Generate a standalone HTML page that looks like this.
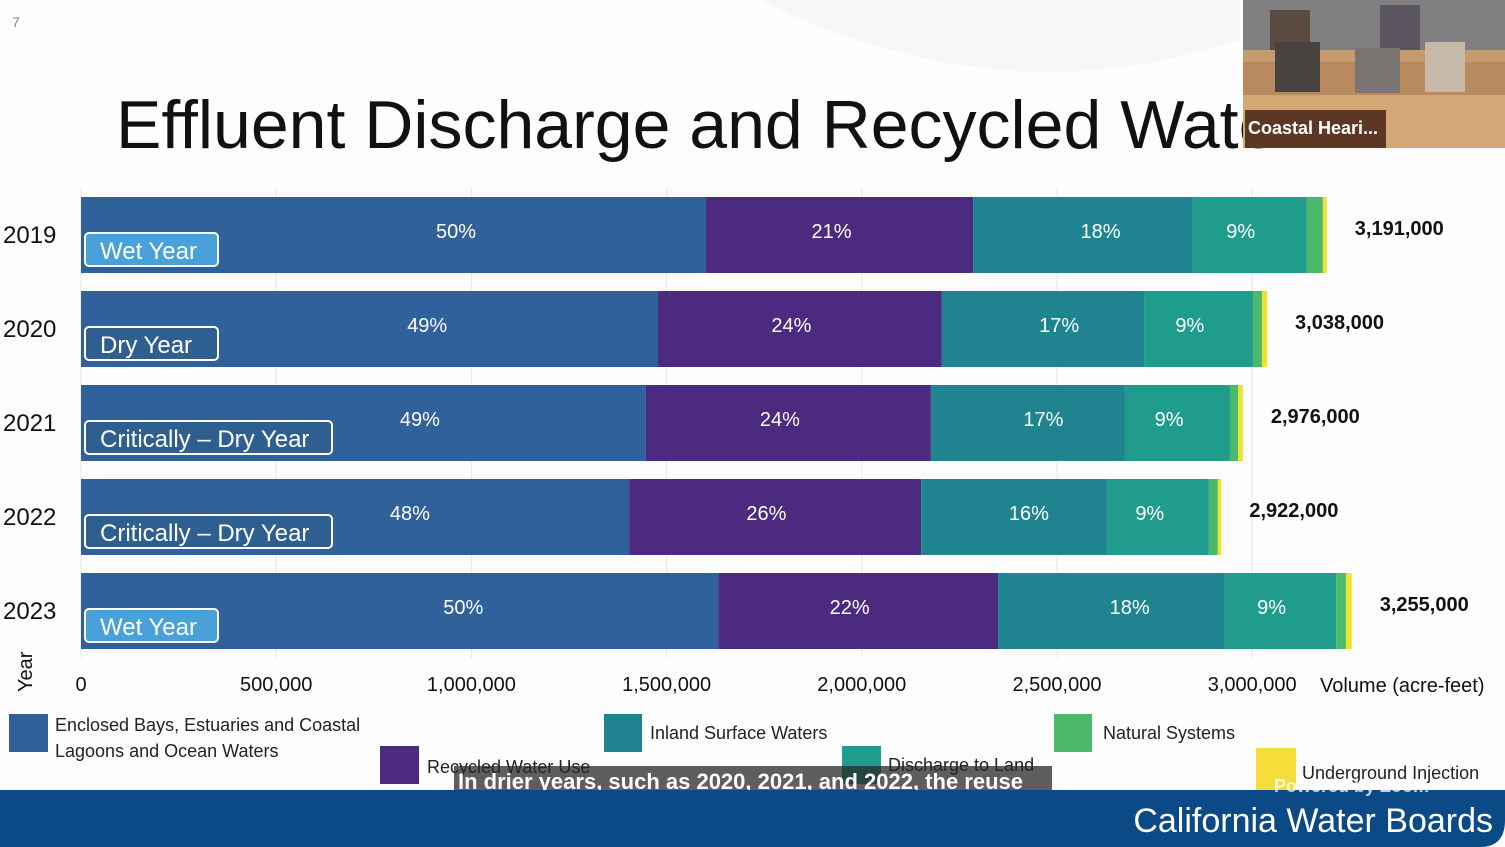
<!DOCTYPE html>
<html><head><meta charset="utf-8">
<style>
html,body{margin:0;padding:0;background:#fff;}
body{width:1505px;height:847px;overflow:hidden;position:relative;font-family:"Liberation Sans",sans-serif;}
svg{position:absolute;left:0;top:0;}
</style></head>
<body>
<svg id="chart" width="1505" height="847" viewBox="0 0 1505 847">
  <rect x="0" y="0" width="1505" height="847" fill="#fdfdfd"/>
  <path d="M760 0 Q1000 120 1240 40 L1240 0 Z" fill="#f6f7f8"/>
  <text x="12" y="27" font-size="14" fill="#888">7</text>
  <text x="116" y="148" font-size="68" fill="#111">Effluent Discharge and Recycled Water</text>
  <g id="grid"></g>
  <g id="bars"></g>
  <g id="xticks"></g>
  <text x="1320" y="692" font-size="20" fill="#111">Volume (acre-feet)</text>
  <text transform="translate(32,692) rotate(-90)" font-size="20" fill="#111">Year</text>
  <g font-size="18" fill="#222">
    <rect x="9" y="714" width="39" height="38" fill="#31619a"/>
    <text x="55" y="731">Enclosed Bays, Estuaries and Coastal</text>
    <text x="55" y="757">Lagoons and Ocean Waters</text>
    <rect x="380" y="746" width="39" height="38" fill="#4b2a80"/>
    <text x="427" y="773">Recycled Water Use</text>
    <rect x="604" y="714" width="38" height="38" fill="#1f8490"/>
    <text x="650" y="739">Inland Surface Waters</text>
    <rect x="842" y="746" width="39" height="38" fill="#1f9c8c"/>
    <text x="888" y="771">Discharge to Land</text>
    <rect x="1054" y="714" width="38" height="38" fill="#4cb86a"/>
    <text x="1103" y="739">Natural Systems</text>
    <rect x="1256" y="748" width="40" height="42" fill="#f5dd3a"/>
    <text x="1302" y="779">Underground Injection</text>
  </g>
  <rect x="454" y="766" width="598" height="32" fill="rgba(40,40,40,0.75)"/>
  <text x="458" y="789" font-size="22" font-weight="bold" fill="#fff">In drier years, such as 2020, 2021, and 2022, the reuse</text>
  <path d="M0 790 H1505 V820 Q1505 847 1480 847 H0 Z" fill="#0b4a86"/>
  <text x="1274" y="792" font-size="18" font-weight="bold" fill="rgba(255,255,255,0.75)">Powered by Zoom</text>
  <text x="1493" y="832" font-size="34" fill="#fff" text-anchor="end">California Water Boards</text>
  <g>
    <rect x="1243" y="0" width="262" height="148" fill="#b88a5e"/>
    <rect x="1243" y="0" width="262" height="55" fill="#7f7f82"/>
    <rect x="1270" y="10" width="40" height="45" fill="#5a4a40"/>
    <rect x="1380" y="5" width="40" height="45" fill="#5a5560"/>
    <rect x="1243" y="50" width="262" height="12" fill="#c79a6c"/>
    <rect x="1275" y="42" width="45" height="50" fill="#4a4440"/>
    <rect x="1355" y="48" width="45" height="45" fill="#7a7572"/>
    <rect x="1425" y="42" width="40" height="50" fill="#c8b8a8"/>
    <rect x="1243" y="95" width="262" height="53" fill="#d4a777"/>
    <rect x="1245" y="110" width="141" height="38" fill="rgba(70,35,20,0.85)"/>
    <text x="1248" y="134" font-size="18" font-weight="bold" fill="#fff">Coastal Heari...</text>
  </g>
</svg>
<script>
const years = ["2019","2020","2021","2022","2023"];
const yearTypes = ["Wet Year","Dry Year","Critically – Dry Year","Critically – Dry Year","Wet Year"];
const enclosed = [1601000,1478000,1447000,1404000,1632000];
const recycled = [684000,727000,730000,748000,717000];
const inland = [563000,518000,497000,476000,581000];
const dischargeLand = [292000,279000,269000,261000,285000];
const natural = [41000,23000,21000,23000,25000];
const underground = [10000,13000,12000,9000,15000];
const pctLabels = [["50%","21%","18%","9%"],["49%","24%","17%","9%"],["49%","24%","17%","9%"],["48%","26%","16%","9%"],["50%","22%","18%","9%"]];
const totalLabels = ["3,191,000","3,038,000","2,976,000","2,922,000","3,255,000"];
const xTicks = [0,500000,1000000,1500000,2000000,2500000,3000000];
const xTickLabels = ["0","500,000","1,000,000","1,500,000","2,000,000","2,500,000","3,000,000"];

const NS="http://www.w3.org/2000/svg";
const x0=81, pxPer=195.2/500000;
function xs(v){return x0+v*pxPer;}
function yBand(i){return 197+i*94;}
const bandH=76;
const labelFrac=[0.6,0.47,0.58,0.42];
function mk(tag,attrs,parent){const e=document.createElementNS(NS,tag);for(const k in attrs)e.setAttribute(k,attrs[k]);parent.appendChild(e);return e;}

const grid=document.getElementById('grid');
xTicks.forEach((t,i)=>{
  const l=mk('line',{x1:xs(t),x2:xs(t),y1:188,y2:658,stroke:'#e6e6e6','stroke-width':1},grid);
  
  
});
const xt=document.getElementById('xticks');
xTicks.forEach((t,i)=>{
  const tx=mk('text',{x:xs(t),y:691,'font-size':20,fill:'#111','text-anchor':'middle'},xt);
  tx.textContent=xTickLabels[i];
  
  
});

const series=[enclosed,recycled,inland,dischargeLand,natural,underground];
const colors=["#31619a","#4b2a80","#1f8490","#1f9c8c","#4cb86a","#f0e22a"];
const sNames=["enclosed-bays","recycled-water","inland-surface","discharge-land","natural-systems","underground-injection"];
const bars=document.getElementById('bars');
years.forEach((yr,i)=>{
  const y=yBand(i);
  let cum=0;
  series.forEach((s,j)=>{
    const v=s[i];
    const r=mk('rect',{x:xs(cum),y:y,width:Math.max(0,xs(cum+v)-xs(cum)),height:bandH,fill:colors[j]},bars);
    
    
    if(j<4){
      const t=mk('text',{x:xs(cum)+(xs(cum+v)-xs(cum))*labelFrac[j],y:y+41,'font-size':20,fill:'#fff','text-anchor':'middle'},bars);
      t.textContent=pctLabels[i][j];
      
      
    }
    cum+=v;
  });
  const tot=mk('text',{x:xs(cum)+28,y:y+38,'font-size':20,'font-weight':'bold',fill:'#111'},bars);
  tot.textContent=totalLabels[i];
  
  
  const yl=mk('text',{x:3,y:y+46,'font-size':24,fill:'#111'},bars);
  yl.textContent=yr;
  
  
  const wet=yearTypes[i]==="Wet Year";
  const w=yearTypes[i].length>10?247:133;
  const bx=mk('rect',{x:85,y:y+36,width:w,height:33,rx:4,fill:wet?'#4aa0d8':'#2f5f90',stroke:'#fff','stroke-width':2},bars);
  
  
  const bt=mk('text',{x:100,y:y+62,'font-size':24,fill:'#fff'},bars);
  bt.textContent=yearTypes[i];
  
  
});
</script>
</body></html>
